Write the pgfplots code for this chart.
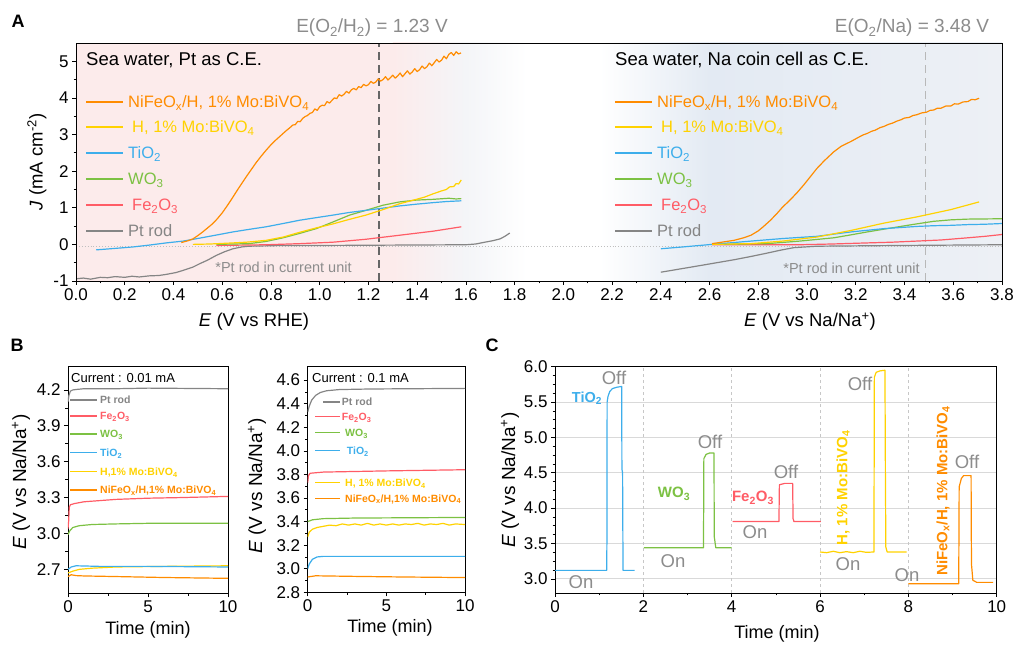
\documentclass[border=0pt]{standalone}
\usepackage{fontspec}
\setmainfont{Liberation Sans}
\usepackage{pgfplots}
\pgfplotsset{compat=1.18}
\newcommand{\fs}[1]{\fontsize{#1}{#1}\selectfont}
\definecolor{cOr}{HTML}{FF8C00}
\definecolor{cYe}{HTML}{FFD200}
\definecolor{cBl}{HTML}{3DAEEB}
\definecolor{cGr}{HTML}{7CC143}
\definecolor{cRe}{HTML}{FF5C66}
\definecolor{cGy}{HTML}{858585}
\definecolor{txtGy}{HTML}{8C8C8C}
\definecolor{pinkbg}{HTML}{FCEBEB}
\definecolor{midbg}{HTML}{F4F5F8}
\definecolor{bluebg}{HTML}{E3EAF3}
\definecolor{bluebg2}{HTML}{EDF0F5}
\pgfplotsset{
  base/.style={scale only axis, anchor=south west,
    axis line style={line width=0.8pt},
    tick align=outside, xtick pos=bottom, ytick pos=left,
    major tick length=4pt, minor tick length=2.5pt,
    tick style={black, line width=0.7pt},
    /pgf/number format/assume math mode=true,
    tick label style={font=\fs{17}},
    no markers,
    every axis plot/.append style={line width=1.2pt, line join=round},
  },
  onedec/.style={/pgf/number format/.cd, fixed, fixed zerofill, precision=1},
}
\begin{document}
\begin{tikzpicture}
\useasboundingbox (0pt,0pt) rectangle (1015pt,648pt);
% ================= Panel A =================
\begin{axis}[base, axis on top, at={(76pt,367pt)}, width=926pt, height=238pt,
  xmin=0, xmax=3.8, ymin=-1, ymax=5.5,
  xtick distance=0.2, minor x tick num=1,
  ytick={-1,0,1,2,3,4,5}, minor y tick num=1,
  xticklabel style={onedec}]
\fill[pinkbg] (axis cs:0,-1) rectangle (axis cs:1.3,5.5);
\shade[left color=pinkbg, right color=midbg] (axis cs:1.3,-1) rectangle (axis cs:1.6,5.5);
\shade[left color=midbg, right color=white] (axis cs:1.6,-1) rectangle (axis cs:1.85,5.5);
\shade[left color=white, right color=bluebg] (axis cs:2.15,-1) rectangle (axis cs:2.6,5.5);
\shade[left color=bluebg, right color=bluebg2] (axis cs:2.6,-1) rectangle (axis cs:3.8,5.5);
\draw[gray!50, dotted, line width=0.9pt] (axis cs:0,-0.07) -- (axis cs:3.8,-0.07);
\draw[black!60, line width=1.3pt, dash pattern=on 8pt off 5pt] (axis cs:1.243,-1) -- (axis cs:1.243,5.5);
\draw[black!28, line width=1.3pt, dash pattern=on 8pt off 5pt] (axis cs:3.485,-1) -- (axis cs:3.485,5.5);
% left half
\addplot[cGy] coordinates {(0.0,-0.94)(0.03,-0.92)(0.06,-0.95)(0.1,-0.9)(0.13,-0.91)(0.16,-0.88)(0.2,-0.9)(0.23,-0.87)(0.26,-0.89)(0.3,-0.86)(0.34,-0.85)(0.37,-0.82)(0.41,-0.77)(0.44,-0.71)(0.48,-0.62)(0.507,-0.53)(0.54,-0.43)(0.576,-0.3)(0.61,-0.2)(0.644,-0.12)(0.68,-0.07)(0.71,-0.05)(0.85,-0.03)(1.0,-0.03)(1.3,-0.02)(1.6,-0.01)(1.64,0.01)(1.67,0.05)(1.71,0.1)(1.74,0.15)(1.76,0.22)(1.78,0.31)};
\addplot[cRe] coordinates {(0.576,-0.03)(0.78,-0.01)(0.918,0.02)(1.055,0.06)(1.19,0.14)(1.328,0.25)(1.465,0.36)(1.581,0.48)};
\addplot[cGr] coordinates {(0.576,0.0)(0.71,0.02)(0.78,0.08)(0.85,0.18)(0.918,0.30)(0.986,0.43)(1.05,0.6)(1.123,0.80)(1.19,0.93)(1.26,1.07)(1.328,1.16)(1.397,1.21)(1.465,1.23)(1.53,1.26)(1.56,1.24)(1.581,1.25)};
\addplot[cBl] coordinates {(0.083,-0.15)(0.16,-0.11)(0.234,-0.07)(0.3,-0.02)(0.37,0.04)(0.44,0.09)(0.507,0.17)(0.58,0.26)(0.644,0.34)(0.71,0.41)(0.78,0.48)(0.85,0.57)(0.918,0.66)(0.986,0.73)(1.055,0.8)(1.12,0.87)(1.19,0.93)(1.26,0.99)(1.328,1.05)(1.40,1.10)(1.465,1.14)(1.52,1.17)(1.581,1.19)};
\addplot[cYe] coordinates {(0.48,0.0)(0.55,0.01)(0.644,0.04)(0.70,0.06)(0.78,0.11)(0.85,0.2)(0.918,0.33)(0.986,0.45)(1.055,0.56)(1.12,0.68)(1.19,0.80)(1.26,0.95)(1.328,1.11)(1.397,1.23)(1.43,1.29)(1.465,1.38)(1.50,1.46)(1.52,1.50)(1.533,1.57)(1.55,1.58)(1.56,1.66)(1.57,1.65)(1.581,1.76)};
\addplot[cOr] coordinates {(0.432,0.05)(0.46,0.10)(0.48,0.15)(0.50,0.24)(0.52,0.34)(0.54,0.45)(0.56,0.56)(0.58,0.70)(0.60,0.86)(0.62,1.05)(0.64,1.25)(0.66,1.46)(0.68,1.66)(0.70,1.86)(0.72,2.05)(0.74,2.24)(0.76,2.41)(0.78,2.57)(0.80,2.72)(0.82,2.85)(0.84,2.97)(0.86,3.09)(0.88,3.20)(0.89,3.26)(0.90,3.27)(0.91,3.36)(0.92,3.35)(0.93,3.44)(0.94,3.49)(0.95,3.52)(0.96,3.58)(0.97,3.60)(0.98,3.70)(0.99,3.66)(1.00,3.76)(1.01,3.80)(1.02,3.79)(1.03,3.90)(1.04,3.86)(1.05,3.93)(1.06,4.00)(1.07,3.98)(1.08,4.09)(1.09,4.05)(1.10,4.10)(1.11,4.18)(1.12,4.13)(1.13,4.22)(1.14,4.26)(1.15,4.22)(1.16,4.31)(1.17,4.28)(1.18,4.37)(1.19,4.33)(1.20,4.36)(1.21,4.45)(1.22,4.40)(1.23,4.43)(1.24,4.52)(1.25,4.46)(1.26,4.50)(1.27,4.58)(1.28,4.49)(1.29,4.55)(1.30,4.62)(1.31,4.54)(1.32,4.60)(1.33,4.68)(1.34,4.58)(1.35,4.66)(1.36,4.74)(1.37,4.65)(1.38,4.71)(1.39,4.80)(1.40,4.72)(1.41,4.77)(1.42,4.87)(1.43,4.80)(1.44,4.85)(1.45,4.95)(1.46,4.88)(1.47,4.96)(1.48,5.05)(1.49,4.98)(1.50,5.03)(1.51,5.14)(1.52,5.07)(1.53,5.19)(1.54,5.24)(1.55,5.16)(1.56,5.26)(1.57,5.20)(1.58,5.23)};
% right half
\addplot[cGy] coordinates {(2.4,-0.76)(2.48,-0.67)(2.56,-0.58)(2.63,-0.50)(2.70,-0.42)(2.77,-0.33)(2.835,-0.24)(2.89,-0.16)(2.945,-0.09)(3.04,-0.05)(3.384,-0.03)(3.8,-0.01)};
\addplot[cRe] coordinates {(2.61,-0.01)(2.97,-0.01)(3.1,0.01)(3.247,0.04)(3.35,0.06)(3.45,0.09)(3.55,0.12)(3.66,0.18)(3.73,0.22)(3.8,0.27)};
\addplot[cGr] coordinates {(2.61,0.0)(2.835,0.02)(2.97,0.09)(3.11,0.18)(3.18,0.26)(3.247,0.34)(3.32,0.42)(3.384,0.49)(3.45,0.56)(3.52,0.63)(3.59,0.67)(3.66,0.69)(3.8,0.7)};
\addplot[cBl] coordinates {(2.4,-0.12)(2.49,-0.07)(2.61,0.0)(2.77,0.09)(2.9,0.16)(3.04,0.22)(3.18,0.34)(3.315,0.43)(3.45,0.49)(3.52,0.51)(3.59,0.52)(3.66,0.54)(3.73,0.55)(3.8,0.57)};
\addplot[cYe] coordinates {(2.61,0.0)(2.77,0.02)(2.9,0.09)(3.04,0.2)(3.18,0.38)(3.315,0.58)(3.45,0.75)(3.59,0.95)(3.706,1.16)};
\addplot[cOr] coordinates {(2.61,0.02)(2.65,0.06)(2.70,0.11)(2.74,0.18)(2.77,0.25)(2.80,0.37)(2.82,0.48)(2.85,0.66)(2.876,0.84)(2.90,1.02)(2.93,1.21)(2.96,1.42)(2.986,1.62)(3.01,1.82)(3.04,2.07)(3.07,2.28)(3.11,2.53)(3.14,2.68)(3.18,2.81)(3.21,2.92)(3.23,2.99)(3.247,3.03)(3.265,3.09)(3.28,3.12)(3.30,3.19)(3.315,3.22)(3.335,3.28)(3.35,3.31)(3.37,3.37)(3.384,3.40)(3.40,3.45)(3.42,3.47)(3.435,3.52)(3.45,3.54)(3.47,3.59)(3.49,3.61)(3.505,3.66)(3.52,3.67)(3.535,3.72)(3.55,3.72)(3.57,3.78)(3.59,3.78)(3.605,3.84)(3.62,3.83)(3.64,3.89)(3.66,3.90)(3.675,3.96)(3.69,3.95)(3.706,3.99)};
\end{axis}
% Panel A texts
\node[font=\bfseries\fs{18}] at (18pt,627pt) {A};
\node[text=txtGy, font=\fs{19}] at (372pt,620pt) {E(O\textsubscript{2}/H\textsubscript{2}) = 1.23 V};
\node[text=txtGy, font=\fs{19}] at (912pt,620pt) {E(O\textsubscript{2}/Na) = 3.48 V};
\node[anchor=west, font=\fs{18.5}, inner sep=0pt] at (86pt,588pt) {Sea water, Pt as C.E.};
\node[anchor=west, font=\fs{18.5}, inner sep=0pt] at (615pt,588pt) {Sea water, Na coin cell as C.E.};
\node[text=txtGy, font=\fs{14.5}] at (283.5pt,381pt) {*Pt rod in current unit};
\node[text=txtGy, font=\fs{14.5}] at (851.5pt,380pt) {*Pt rod in current unit};
\node[font=\fs{18.5}] at (254pt,326pt) {\textit{E} (V vs RHE)};
\node[font=\fs{18.5}] at (810pt,326pt) {\textit{E} (V vs Na/Na\textsuperscript{+})};
\node[rotate=90, font=\fs{18.5}] at (37pt,486pt) {\textit{J} (mA cm\textsuperscript{-2})};
% legends A (left)
\draw[cOr, line width=1.8pt] (86pt,546.3pt) -- (123pt,546.3pt);
\draw[cYe, line width=1.8pt] (86pt,521.3pt) -- (123pt,521.3pt);
\draw[cBl, line width=1.8pt] (86pt,495pt) -- (123pt,495pt);
\draw[cGr, line width=1.8pt] (86pt,469pt) -- (123pt,469pt);
\draw[cRe, line width=1.8pt] (86pt,443pt) -- (123pt,443pt);
\draw[cGy, line width=1.8pt] (86pt,417pt) -- (123pt,417pt);
% legends A (right)
\draw[cOr, line width=1.8pt] (615pt,546.3pt) -- (652pt,546.3pt);
\draw[cYe, line width=1.8pt] (615pt,521.3pt) -- (652pt,521.3pt);
\draw[cBl, line width=1.8pt] (615pt,495pt) -- (652pt,495pt);
\draw[cGr, line width=1.8pt] (615pt,469pt) -- (652pt,469pt);
\draw[cRe, line width=1.8pt] (615pt,443pt) -- (652pt,443pt);
\draw[cGy, line width=1.8pt] (615pt,417pt) -- (652pt,417pt);
\begin{scope}[every node/.style={anchor=base west, font=\fs{16.5}, inner sep=0pt}]
\node[text=cOr] at (128pt,540.3pt) {NiFeO\textsubscript{x}/H, 1\% Mo:BiVO\textsubscript{4}};
\node[text=cYe] at (132pt,515.3pt) {H, 1\% Mo:BiVO\textsubscript{4}};
\node[text=cBl] at (128pt,489pt) {TiO\textsubscript{2}};
\node[text=cGr] at (128pt,463pt) {WO\textsubscript{3}};
\node[text=cRe] at (132pt,437pt) {Fe\textsubscript{2}O\textsubscript{3}};
\node[text=cGy] at (128pt,411pt) {Pt rod};
\node[text=cOr] at (657pt,540.3pt) {NiFeO\textsubscript{x}/H, 1\% Mo:BiVO\textsubscript{4}};
\node[text=cYe] at (661pt,515.3pt) {H, 1\% Mo:BiVO\textsubscript{4}};
\node[text=cBl] at (657pt,489pt) {TiO\textsubscript{2}};
\node[text=cGr] at (657pt,463pt) {WO\textsubscript{3}};
\node[text=cRe] at (661pt,437pt) {Fe\textsubscript{2}O\textsubscript{3}};
\node[text=cGy] at (657pt,411pt) {Pt rod};
\end{scope}
% ================= Panel B left =================
\begin{axis}[base, at={(68pt,54.7pt)}, width=160pt, height=227.3pt,
  xmin=0, xmax=10, ymin=2.5, ymax=4.4,
  xtick={0,5,10}, minor x tick num=1,
  ytick={2.7,3.0,3.3,3.6,3.9,4.2}, minor y tick num=1,
  yticklabel style={onedec}]
\addplot[cGy] coordinates {(0,4.10)(0.05,4.15)(0.15,4.19)(0.3,4.2)(0.6,4.205)(1,4.21)(3,4.21)(5,4.215)(10,4.21)};
\addplot[cRe] coordinates {(0,3.04)(0.04,3.10)(0.08,3.22)(0.15,3.24)(0.4,3.25)(1,3.265)(2,3.275)(3,3.285)(5,3.295)(7,3.30)(10,3.31)};
\addplot[cGr] coordinates {(0,2.99)(0.1,3.02)(0.3,3.05)(0.7,3.065)(1.5,3.075)(3,3.08)(5,3.085)(10,3.085)};
\addplot[cYe] coordinates {(0,2.67)(0.3,2.685)(0.7,2.70)(1.5,2.71)(3,2.72)(6,2.725)(10,2.73)};
\addplot[cBl] coordinates {(0,2.70)(0.2,2.72)(0.5,2.73)(2,2.725)(5,2.725)(10,2.72)};
\addplot[cOr] coordinates {(0,2.64)(0.2,2.655)(0.5,2.648)(1,2.645)(3,2.64)(6,2.632)(10,2.625)};
\end{axis}
\node[font=\bfseries\fs{18}] at (17pt,303pt) {B};
\node[anchor=west, font=\fs{13}, inner sep=0pt] at (71pt,270pt) {Current : 0.01 mA};
\draw[cGy, line width=1.5pt] (70pt,248pt) -- (97pt,248pt);
\draw[cRe, line width=1.5pt] (70pt,232pt) -- (97pt,232pt);
\draw[cGr, line width=1.5pt] (70pt,214pt) -- (97pt,214pt);
\draw[cBl, line width=1.5pt] (70pt,195.3pt) -- (97pt,195.3pt);
\draw[cYe, line width=1.5pt] (70pt,176.3pt) -- (97pt,176.3pt);
\draw[cOr, line width=1.5pt] (70pt,158pt) -- (97pt,158pt);
\begin{scope}[every node/.style={anchor=base west, inner sep=0pt, font=\bfseries\fs{10.5}}]
\node[text=cGy] at (100pt,244.2pt) {Pt rod};
\node[text=cRe] at (100pt,228.2pt) {Fe\textsubscript{2}O\textsubscript{3}};
\node[text=cGr] at (100pt,210.2pt) {WO\textsubscript{3}};
\node[text=cBl] at (100pt,191.5pt) {TiO\textsubscript{2}};
\node[text=cYe] at (100pt,172.5pt) {H,1\% Mo:BiVO\textsubscript{4}};
\node[text=cOr] at (100pt,154.2pt) {NiFeO\textsubscript{x}/H,1\% Mo:BiVO\textsubscript{4}};
\end{scope}
\node[rotate=90, font=\fs{19}] at (21pt,166pt) {\textit{E} (V vs Na/Na\textsuperscript{+})};
\node[font=\fs{18}] at (148pt,18pt) {Time (min)};
% ================= Panel B right =================
\begin{axis}[base, at={(307.7pt,55.7pt)}, width=157.3pt, height=226.3pt,
  xmin=0, xmax=10, ymin=2.8, ymax=4.72,
  xtick={0,5,10}, minor x tick num=1,
  ytick={2.8,3.0,3.2,3.4,3.6,3.8,4.0,4.2,4.4,4.6}, minor y tick num=1,
  yticklabel style={onedec}]
\addplot[cGy] coordinates {(0,4.33)(0.1,4.38)(0.25,4.43)(0.5,4.47)(0.8,4.495)(1.2,4.51)(2,4.52)(4,4.525)(10,4.53)};
\addplot[cRe] coordinates {(0,3.73)(0.05,3.79)(0.15,3.81)(1,3.82)(5,3.83)(10,3.84)};
\addplot[cGr] coordinates {(0,3.40)(0.3,3.415)(1,3.425)(3,3.43)(10,3.435)};
\addplot[cYe] coordinates {(0,3.27)(0.1,3.31)(0.3,3.335)(0.6,3.35)(1,3.36)(1.4,3.37)(1.8,3.365)(2.2,3.38)(2.6,3.37)(3,3.38)(3.4,3.37)(3.8,3.385)(4.2,3.37)(4.6,3.38)(5,3.37)(5.4,3.38)(5.8,3.37)(6.2,3.38)(6.6,3.375)(7,3.385)(7.4,3.37)(7.8,3.38)(8.2,3.375)(8.6,3.385)(9,3.37)(9.4,3.38)(10,3.375)};
\addplot[cBl] coordinates {(0,3.0)(0.1,3.04)(0.3,3.08)(0.6,3.10)(1,3.105)(5,3.105)(10,3.105)};
\addplot[cOr] coordinates {(0,2.93)(0.5,2.94)(3,2.935)(6,2.93)(10,2.925)};
\end{axis}
\node[anchor=west, font=\fs{13}, inner sep=0pt] at (312pt,270pt) {Current : 0.1 mA};
\draw[cGy, line width=1.5pt] (323pt,246pt) -- (340pt,246pt);
\draw[cRe, line width=1.5pt] (315pt,231.3pt) -- (340pt,231.3pt);
\draw[cGr, line width=1.5pt] (315pt,215.3pt) -- (340pt,215.3pt);
\draw[cBl, line width=1.5pt] (315pt,197.3pt) -- (340pt,197.3pt);
\draw[cYe, line width=1.5pt] (315pt,165.3pt) -- (340pt,165.3pt);
\draw[cOr, line width=1.5pt] (315pt,149.7pt) -- (340pt,149.7pt);
\begin{scope}[every node/.style={anchor=base west, inner sep=0pt, font=\bfseries\fs{10.5}}]
\node[text=cGy] at (341.7pt,242.2pt) {Pt rod};
\node[text=cRe] at (341.7pt,227.5pt) {Fe\textsubscript{2}O\textsubscript{3}};
\node[text=cGr] at (345pt,211.5pt) {WO\textsubscript{3}};
\node[text=cBl] at (346.7pt,193.5pt) {TiO\textsubscript{2}};
\node[text=cYe] at (345pt,161.5pt) {H, 1\% Mo:BiVO\textsubscript{4}};
\node[text=cOr] at (345pt,145.9pt) {NiFeO\textsubscript{x}/H,1\% Mo:BiVO\textsubscript{4}};
\end{scope}
\node[rotate=90, font=\fs{19}] at (257pt,162pt) {\textit{E} (V vs Na/Na\textsuperscript{+})};
\node[font=\fs{18}] at (390pt,20pt) {Time (min)};
% ================= Panel C =================
\begin{axis}[base, at={(555pt,55pt)}, width=441.7pt, height=226.3pt,
  xmin=0, xmax=10, ymin=2.8, ymax=6.0,
  xtick={0,2,4,6,8,10}, minor x tick num=1,
  ytick={3.0,3.5,4.0,4.5,5.0,5.5,6.0}, minor y tick num=3,
  ymajorgrids, grid style={black!15, line width=0.8pt},
  yticklabel style={onedec}]
\foreach \v in {2,4,6,8}{\edef\temp{\noexpand\draw[black!22, line width=0.8pt, dash pattern=on 3pt off 3pt] (axis cs:\v,2.8) -- (axis cs:\v,6.0);}\temp}
\addplot[cBl] coordinates {(0,3.12)(1.17,3.12)(1.175,3.5)(1.18,5.5)(1.2,5.58)(1.24,5.65)(1.3,5.69)(1.4,5.71)(1.51,5.72)(1.515,4.55)(1.53,4.5)(1.54,3.12)(1.8,3.12)};
\addplot[cGr] coordinates {(2.01,3.44)(3.36,3.44)(3.365,3.9)(3.37,4.7)(3.42,4.76)(3.5,4.78)(3.6,4.78)(3.605,3.6)(3.64,3.44)(4.0,3.44)};
\addplot[cRe] coordinates {(4.02,3.81)(5.07,3.81)(5.08,4.33)(5.2,4.35)(5.38,4.35)(5.39,3.85)(5.41,3.81)(6.02,3.81)};
\addplot[cYe] coordinates {(6.0,3.38)(6.15,3.37)(6.3,3.39)(6.45,3.37)(6.6,3.385)(6.75,3.37)(6.9,3.39)(7.05,3.375)(7.22,3.38)(7.225,4.5)(7.23,5.85)(7.27,5.92)(7.35,5.94)(7.47,5.95)(7.48,4.5)(7.49,3.45)(7.52,3.38)(7.7,3.38)(7.96,3.38)};
\addplot[cOr] coordinates {(8.0,2.93)(9.14,2.93)(9.145,3.6)(9.15,4.3)(9.2,4.42)(9.25,4.46)(9.42,4.46)(9.425,3.6)(9.43,3.2)(9.46,2.98)(9.55,2.95)(9.92,2.95)};
\end{axis}
\node[font=\bfseries\fs{18}] at (492pt,303pt) {C};
\node[rotate=90, font=\fs{19}] at (510pt,168pt) {\textit{E} (V vs Na/Na\textsuperscript{+})};
\node[font=\fs{18}] at (777pt,14pt) {Time (min)};
% panel C annotations
\begin{scope}[every node/.style={inner sep=0pt}]
\node[text=cBl, font=\bfseries\fs{14.5}] at (587pt,250pt) {TiO\textsubscript{2}};
\node[text=txtGy, font=\fs{18.5}] at (614pt,270pt) {Off};
\node[text=txtGy, font=\fs{18.5}] at (581pt,66pt) {On};
\node[text=cGr, font=\bfseries\fs{15}] at (674pt,154pt) {WO\textsubscript{3}};
\node[text=txtGy, font=\fs{18.5}] at (710pt,206pt) {Off};
\node[text=txtGy, font=\fs{18.5}] at (673pt,87pt) {On};
\node[text=cRe, font=\bfseries\fs{15}] at (753pt,150pt) {Fe\textsubscript{2}O\textsubscript{3}};
\node[text=txtGy, font=\fs{18.5}] at (786pt,176pt) {Off};
\node[text=txtGy, font=\fs{18.5}] at (755pt,116pt) {On};
\node[text=cYe, font=\bfseries\fs{15}, rotate=90] at (843pt,160pt) {H, 1\% Mo:BiVO\textsubscript{4}};
\node[text=txtGy, font=\fs{18.5}] at (860pt,264pt) {Off};
\node[text=txtGy, font=\fs{18.5}] at (848pt,84pt) {On};
\node[text=cOr, font=\bfseries\fs{15}, rotate=90] at (943pt,157pt) {NiFeO\textsubscript{x}/H, 1\% Mo:BiVO\textsubscript{4}};
\node[text=txtGy, font=\fs{18.5}] at (967pt,186pt) {Off};
\node[text=txtGy, font=\fs{18.5}] at (907pt,73pt) {On};
\end{scope}
\end{tikzpicture}
\end{document}
